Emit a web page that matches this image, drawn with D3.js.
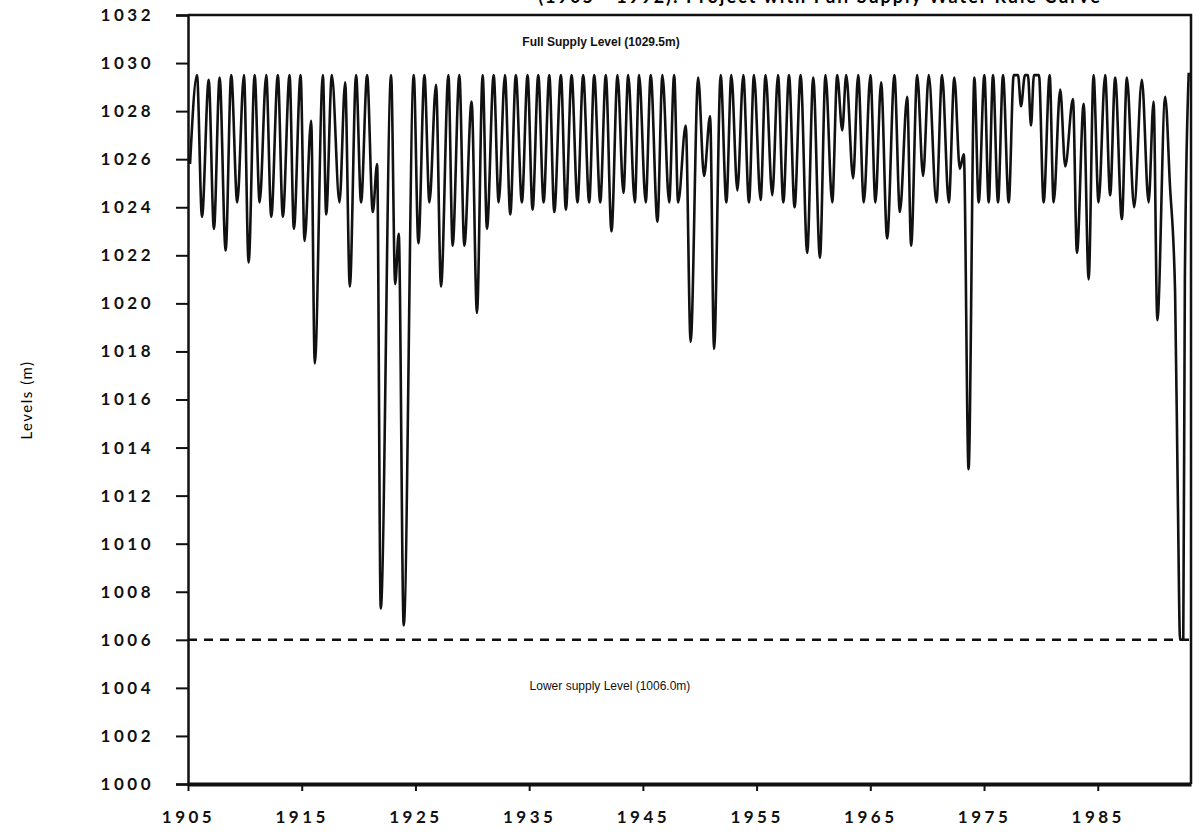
<!DOCTYPE html>
<html>
<head>
<meta charset="utf-8">
<script src="https://cdn.jsdelivr.net/npm/d3@7"></script>
<style>
  body { margin: 0; background: #fff; }
  svg { display: block; }
  .axis text { font-family: Lato, 'DejaVu Sans', sans-serif; font-size: 17px; font-weight: 700; letter-spacing: 3.5px; fill: #111; }
  .axis path, .axis line { stroke: #111; }
  .note { font-family: 'Liberation Sans Narrow', 'Liberation Sans', sans-serif; font-size: 12px; font-weight: 700; fill: #111; }
</style>
</head>
<body>
<svg id="chart" width="1202" height="840"></svg>
<script>
// reservoir levels: alternating peaks and troughs
const obsYear = [1905.18, 1905.79, 1906.23, 1906.82, 1907.28, 1907.78, 1908.31, 1908.80, 1909.33, 1909.92,
  1910.33, 1910.86, 1911.30, 1911.88, 1912.32, 1912.90, 1913.34, 1913.93, 1914.31, 1914.90,
  1915.25, 1915.83, 1916.15, 1916.86, 1917.15, 1917.65, 1918.32, 1918.82, 1919.23, 1919.78,
  1920.22, 1920.75, 1921.25, 1921.63, 1921.95, 1922.86, 1923.22, 1923.53, 1923.97, 1924.85,
  1925.26, 1925.79,
  1926.23, 1926.81, 1927.25, 1927.90, 1928.27, 1928.86, 1929.30, 1929.94, 1930.41, 1930.91,
  1931.29, 1931.88, 1932.32, 1932.87, 1933.34, 1933.83, 1934.36, 1934.86, 1935.30, 1935.80,
  1936.27, 1936.77, 1937.21, 1937.79, 1938.23, 1938.73, 1939.25, 1939.75, 1940.28, 1940.72,
  1941.25, 1941.74, 1942.24, 1942.77, 1943.29, 1943.71, 1944.29, 1944.67, 1945.25, 1945.69,
  1946.28, 1946.72, 1947.31, 1947.75,
  1948.10, 1948.77, 1949.20, 1949.86, 1950.38, 1950.91, 1951.26, 1951.84, 1952.34, 1952.78,
  1953.31, 1953.83, 1954.33, 1954.77, 1955.35, 1955.79, 1956.38, 1956.88, 1957.35, 1957.85,
  1958.34, 1958.87, 1959.45, 1959.98, 1960.57, 1961.06, 1961.65, 1962.09, 1962.53, 1962.88,
  1963.49, 1963.93, 1964.43, 1965.01, 1965.45, 1965.95, 1966.48, 1967.12, 1967.60, 1968.24,
  1968.59, 1969.12, 1969.64, 1970.14, 1970.81, 1971.31, 1971.90, 1972.39, 1972.87, 1973.22,
  1973.64, 1974.15, 1974.53, 1975.03, 1975.41, 1975.79, 1976.23, 1976.67, 1977.17, 1977.61,
  1977.99, 1978.25, 1978.60, 1978.86, 1979.13, 1979.39, 1979.83, 1980.24, 1980.77, 1981.12,
  1981.70, 1982.14, 1982.82, 1983.17, 1983.76, 1984.20, 1984.63, 1985.07, 1985.65, 1986.09,
  1986.53, 1987.12, 1987.56, 1988.20, 1988.88, 1989.47, 1989.91, 1990.24, 1990.93, 1991.34,
  1991.80, 1992.04, 1992.24, 1992.52, 1992.66, 1993.00]

const obsLevel = [1025.8, 1029.5, 1023.6, 1029.3, 1023.1, 1029.4, 1022.2, 1029.5, 1024.2, 1029.5,
  1021.7, 1029.5, 1024.2, 1029.5, 1023.6, 1029.5, 1023.6, 1029.5, 1023.1, 1029.5,
  1022.6, 1027.6, 1017.5, 1029.5, 1023.7, 1029.5, 1024.2, 1029.2, 1020.7, 1029.5,
  1024.2, 1029.5, 1023.8, 1025.8, 1007.3, 1029.5, 1020.8, 1022.9, 1006.6, 1029.5,
  1022.5, 1029.5,
  1024.2, 1029.1, 1020.7, 1029.5, 1022.4, 1029.5, 1022.4, 1028.4, 1019.6, 1029.5,
  1023.1, 1029.5, 1024.2, 1029.5, 1023.7, 1029.5, 1024.2, 1029.5, 1023.9, 1029.5,
  1024.2, 1029.5, 1023.8, 1029.5, 1023.9, 1029.5, 1024.2, 1029.5, 1024.2, 1029.5,
  1024.2, 1029.5, 1023.0, 1029.5, 1024.6, 1029.5, 1024.2, 1029.5, 1024.2, 1029.5,
  1023.4, 1029.5, 1024.2, 1029.5,
  1024.2, 1027.4, 1018.4, 1029.4, 1025.3, 1027.8, 1018.1, 1029.5, 1024.2, 1029.5,
  1024.7, 1029.5, 1024.2, 1029.5, 1024.3, 1029.5, 1024.5, 1029.5, 1024.2, 1029.5,
  1024.0, 1029.5, 1022.1, 1029.4, 1021.9, 1029.5, 1024.2, 1029.5, 1027.2, 1029.5,
  1025.2, 1029.5, 1024.2, 1029.5, 1024.2, 1029.2, 1022.7, 1029.5, 1023.8, 1028.6,
  1022.4, 1029.5, 1025.3, 1029.5, 1024.2, 1029.5, 1024.2, 1029.4, 1025.6, 1026.2,
  1013.1, 1029.4, 1024.2, 1029.5, 1024.2, 1029.5, 1024.2, 1029.5, 1024.2, 1029.5,
  1029.5, 1028.2, 1029.5, 1029.5, 1027.4, 1029.5, 1029.5, 1024.2, 1029.5, 1024.2,
  1028.9, 1025.7, 1028.5, 1022.1, 1028.3, 1021.0, 1029.5, 1024.2, 1029.5, 1024.5,
  1029.4, 1023.5, 1029.4, 1024.0, 1029.3, 1024.2, 1028.4, 1019.3, 1028.6, 1025.0,
  1020.5, 1012.0, 1006.0, 1006.0, 1021.0, 1029.6]

const xTickValues = [1905, 1915, 1925, 1935, 1945, 1955, 1965, 1975, 1985]
const yTickValues = [1000, 1002, 1004, 1006, 1008, 1010, 1012, 1014, 1016, 1018, 1020, 1022, 1024, 1026, 1028, 1030, 1032]
const lowerSupply = 1006.0
const notes = ['Full Supply Level (1029.5m)', 'Lower supply Level (1006.0m)']

const svg = d3.select('#chart')
const mLeft = 188
const mRight = 1191
const mTop = 15
const mBottom = 784

const x = d3.scaleLinear().domain([1905, 1993.2]).range([mLeft, mRight])
const y = d3.scaleLinear().domain([1000, 1032]).range([mBottom, mTop])

// title line, cut off by the top of the scan
svg.append('text')
  .attr('x', 820)
  .attr('y', 3)
  .attr('text-anchor', 'middle')
  .style('font-family', 'Lato, sans-serif')
  .style('font-size', '18px')
  .style('font-weight', 700)
  .style('letter-spacing', '2px')
  .text('(1905 - 1992): Project with Full Supply Water Rule Curve')

// frame top and right
svg.append('path')
  .attr('d', `M${mLeft},${y(1032)}H${mRight}V${mBottom}`)
  .attr('fill', 'none')
  .attr('stroke', '#111')
  .attr('stroke-width', 2.5)

// y axis
const yAxis = svg.append('g')
  .attr('class', 'axis')
  .attr('transform', `translate(${mLeft},0)`)
  .call(d3.axisLeft(y).tickValues(yTickValues).tickSize(12).tickPadding(22).tickFormat(d3.format('d')))
yAxis.select('.domain').attr('stroke-width', 2.5)
yAxis.selectAll('.tick line').attr('stroke-width', 2)

// x axis
const xAxis = svg.append('g')
  .attr('class', 'axis')
  .attr('transform', `translate(0,${mBottom})`)
  .call(d3.axisBottom(x).tickValues(xTickValues).tickSizeInner(7).tickSizeOuter(0).tickPadding(20).tickFormat(d3.format('d')))
xAxis.select('.domain').attr('stroke-width', 4)
xAxis.selectAll('.tick line').attr('stroke-width', 2)

// y label
svg.append('text')
  .attr('transform', 'translate(32,400) rotate(-90)')
  .attr('text-anchor', 'middle')
  .style('font-family', 'Lato, sans-serif')
  .style('font-size', '15px')
  .style('letter-spacing', '1.5px')
  .text('Levels (m)')

// lower supply level
svg.append('line')
  .attr('x1', mLeft)
  .attr('x2', mRight)
  .attr('y1', y(lowerSupply))
  .attr('y2', y(lowerSupply))
  .attr('stroke', '#111')
  .attr('stroke-width', 2.5)
  .attr('stroke-dasharray', '9,7')

svg.append('text')
  .attr('class', 'note')
  .attr('x', 601)
  .attr('y', 46)
  .attr('text-anchor', 'middle')
  .text(notes[0])

svg.append('text')
  .attr('class', 'note')
  .attr('x', 610)
  .attr('y', 690)
  .attr('text-anchor', 'middle')
  .style('font-weight', 400)
  .text(notes[1])

// level trace
const pts = obsYear.map((d, i) => [d, obsLevel[i]])
const line = d3.line()
  .x(d => x(d[0]))
  .y(d => y(d[1]))
  .curve(d3.curveMonotoneX)

svg.append('path')
  .datum(pts)
  .attr('d', line)
  .attr('fill', 'none')
  .attr('stroke', '#111')
  .attr('stroke-width', 2.6)
  .attr('stroke-linejoin', 'round')
</script>
</body>
</html>
